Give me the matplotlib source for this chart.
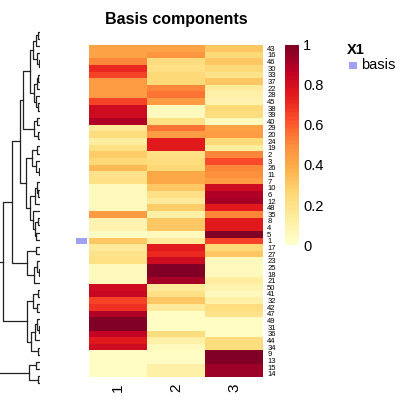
import matplotlib
matplotlib.use("Agg")
import matplotlib.pyplot as plt
from matplotlib.patches import Rectangle
import numpy as np

plt.rcParams["font.family"] = ["Liberation Sans", "DejaVu Sans"]

# row labels (top to bottom) and basis values for the 3 components
row_labels = [43, 16, 46, 30, 33, 37, 22, 28, 45, 38,
              39, 40, 29, 20, 24, 19, 2, 3, 26, 11,
              7, 10, 6, 12, 48, 35, 8, 4, 5, 1,
              17, 27, 23, 25, 18, 21, 50, 41, 32, 42,
              47, 49, 31, 36, 44, 34, 9, 13, 15, 14]
col_labels = ["1", "2", "3"]
comp1 = [0.42, 0.42, 0.50, 0.70, 0.65, 0.45, 0.45, 0.45, 0.65, 0.80,
         0.80, 0.88, 0.15, 0.22, 0.12, 0.20, 0.28, 0.25, 0.35, 0.18,
         0.20, 0.05, 0.05, 0.05, 0.05, 0.45, 0.08, 0.08, 0.03, 0.30,
         0.15, 0.18, 0.20, 0.05, 0.05, 0.05, 0.80, 0.82, 0.65, 0.68,
         0.88, 1.00, 1.00, 0.85, 0.75, 0.80, 0.03, 0.03, 0.03, 0.03]
comp2 = [0.42, 0.47, 0.22, 0.20, 0.25, 0.25, 0.50, 0.55, 0.45, 0.05,
         0.05, 0.20, 0.55, 0.45, 0.75, 0.75, 0.20, 0.22, 0.25, 0.40,
         0.40, 0.30, 0.20, 0.15, 0.28, 0.10, 0.30, 0.30, 0.05, 0.15,
         0.75, 0.70, 0.80, 1.00, 1.00, 0.90, 0.15, 0.20, 0.30, 0.15,
         0.02, 0.02, 0.02, 0.22, 0.10, 0.05, 0.03, 0.03, 0.10, 0.10]
comp3 = [0.30, 0.25, 0.30, 0.25, 0.18, 0.30, 0.15, 0.10, 0.08, 0.25,
         0.22, 0.05, 0.42, 0.45, 0.25, 0.12, 0.50, 0.62, 0.50, 0.48,
         0.45, 0.80, 0.88, 0.90, 0.75, 0.50, 0.75, 0.75, 1.00, 0.65,
         0.25, 0.30, 0.05, 0.05, 0.05, 0.12, 0.08, 0.05, 0.10, 0.22,
         0.18, 0.03, 0.03, 0.03, 0.22, 0.22, 1.00, 1.00, 0.92, 0.92]
cbar_ticks = [0, 0.2, 0.4, 0.6, 0.8, 1]
annot_rows = [1]  # rows flagged in the "basis" annotation

# row dendrogram: (height, left, right), leaves are row labels
tree = (60,
        (37,
         (28,
          (20,
           (17,
            (10,
             (7, (4, (2, 43, 16), 46), (3, 30, (1.5, 33, 37))),
             (6, (3, (2, 22, 28), 45), (4, 38, (2, 39, 40)))),
            (6, (3, 29, 20), (2.5, 24, 19))),
           (14,
            (8, (3, 2, 3), (4, 26, (1.5, 11, 7))),
            (10, (5, (3.5, 10, (2, 6, 12)), 48),
             (7, 35, (5, (2, 8, 4), (4, 5, 1)))))),
          (13, (4, 17, 27), (6, (3, 23, (1.5, 25, 18)), 21))),
         (13,
          (7, (2, 50, 41), (3, 32, 42)),
          (9, (5, (3, 47, (1, 49, 31)), 36), (2.5, 44, 34)))),
        (11, (4, 9, 13), (2.5, 15, 14)))

W = H = 400


def px(l, t, r, b):
    return [l / W, 1 - b / H, (r - l) / W, (b - t) / H]


fig = plt.figure(figsize=(4, 4), dpi=100)
cmap = plt.get_cmap("YlOrRd", 50)

# heatmap
data = np.array([comp1, comp2, comp3]).T
n = len(row_labels)
ax = fig.add_axes(px(89, 45, 263, 377))
ax.imshow(data, cmap=cmap, vmin=0, vmax=1, aspect="auto", interpolation="nearest")
ax.set_xticks(range(3))
ax.set_xticklabels(col_labels, rotation=90, fontsize=11)
ax.set_yticks(range(n))
ax.set_yticklabels(row_labels, fontsize=5.5)
ax.yaxis.tick_right()
ax.tick_params(length=0, pad=3)
ax.tick_params(axis="x", pad=5)
for s in ax.spines.values():
    s.set_visible(False)
ax.set_title("Basis components", fontsize=11.5, fontweight="bold", pad=15)

# annotation column
axa = fig.add_axes(px(76, 45, 87, 377))
for lab in annot_rows:
    i = row_labels.index(lab)
    axa.add_patch(Rectangle((0, i - 0.5), 1, 1, color="#a0a0f5", lw=0))
axa.set_xlim(0, 1)
axa.set_ylim(n - 0.5, -0.5)
axa.axis("off")

# dendrogram
axd = fig.add_axes(px(0, 28, 40, 387))
pos = {lab: i for i, lab in enumerate(row_labels)}


def draw(node):
    if not isinstance(node, tuple):
        return pos[node], 0
    h, a, b = node
    y1, h1 = draw(a)
    y2, h2 = draw(b)
    axd.plot([h1, h, h, h2], [y1, y1, y2, y2], color="#222222", lw=0.9)
    return (y1 + y2) / 2, h


draw(tree)
axd.set_xlim(40, 0)
axd.set_ylim(n - 0.5, -0.5)
axd.axis("off")

# colorbar
axc = fig.add_axes(px(285, 45, 299, 245))
grad = np.linspace(1, 0, 200).reshape(-1, 1)
axc.imshow(grad, cmap=cmap, vmin=0, vmax=1, aspect="auto", extent=[0, 1, 0, 1])
axc.set_xticks([])
axc.yaxis.tick_right()
axc.set_yticks(cbar_ticks)
axc.set_yticklabels(["0", "0.2", "0.4", "0.6", "0.8", "1"], fontsize=10.5)
axc.tick_params(length=0, pad=3)
for s in axc.spines.values():
    s.set_visible(False)

# legend
fig.text(347 / W, 1 - 50 / H, "X1", fontsize=10.5, fontweight="bold", va="center")
fig.patches.append(Rectangle((349 / W, 1 - 69 / H), 8 / W, 7 / H,
                             transform=fig.transFigure, color="#a0a0f5", lw=0))
fig.text(361 / W, 1 - 65 / H, "basis", fontsize=10.5, va="center")

fig.savefig("out.png", dpi=100)
